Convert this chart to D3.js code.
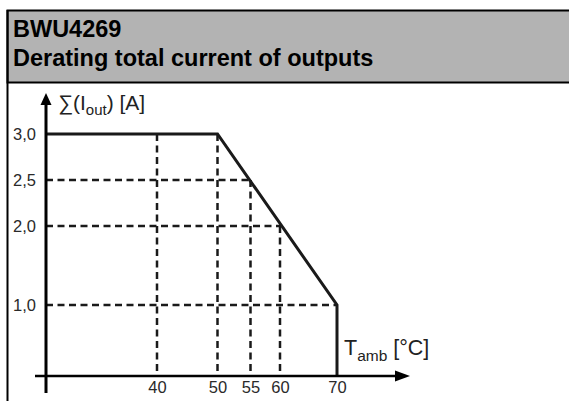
<!DOCTYPE html>
<html>
<head>
<meta charset="utf-8">
<script src="https://cdn.jsdelivr.net/npm/d3@7"></script>
<style>
  body { margin: 0; background: #fff; }
  svg { display: block; font-family: "Liberation Sans", Arial, sans-serif; }
</style>
</head>
<body>
<div id="chart"></div>
<script>
// Derating curve data (schematic drawing, axis origin at 20 °C)
var titleLines = ["BWU4269", "Derating total current of outputs"];
var tempTicks = [40, 50, 55, 60, 70];
var currentTicks = [1.0, 2.0, 2.5, 3.0];
var curveTemp = [20, 50, 70, 70];
var curveCurrent = [3.0, 3.0, 1.0, 0];
// dashed guides: vertical ones from the curve down to the x axis
var guideTemp = [40, 50, 55, 60];
var guideTempTop = [3.0, 3.0, 2.5, 2.0];
// horizontal ones from the y axis to the curve
var guideCurrent = [2.5, 2.0, 1.0];
var guideCurrentEnd = [55, 60, 70];

function init() {
    var w = 569, h = 401;
    var ink = "#1a1a1a";

    // the drawing is not to scale, so the scales are piecewise
    var x = d3.scaleLinear()
        .domain([20, 40, 50, 55, 60, 70])
        .range([46, 157, 217.5, 250.5, 280, 337]);
    var y = d3.scaleLinear()
        .domain([0, 1, 2, 2.5, 3])
        .range([376, 305, 226, 180, 134]);

    var svg = d3.select("#chart").append("svg")
        .attr("width", w)
        .attr("height", h);

    // header box
    svg.append("rect")
        .attr("x", 7.5).attr("y", 10.5)
        .attr("width", w + 10).attr("height", 72)
        .attr("fill", "#b3b3b3")
        .attr("stroke", "#000")
        .attr("stroke-width", 2);
    svg.append("line")
        .attr("x1", 7.5).attr("x2", 7.5)
        .attr("y1", 10).attr("y2", h)
        .attr("stroke", "#000").attr("stroke-width", 2);

    svg.selectAll(".title")
        .data(titleLines)
        .enter().append("text")
        .attr("class", "title")
        .attr("x", 13)
        .attr("y", function(d, i) { return 37 + i * 29; })
        .attr("font-size", "23.5px")
        .attr("font-weight", "bold")
        .attr("fill", "#000")
        .text(function(d) { return d; });

    // dashed guides
    svg.selectAll(".vguide")
        .data(guideTemp)
        .enter().append("line")
        .attr("class", "vguide")
        .attr("x1", function(d) { return x(d); })
        .attr("x2", function(d) { return x(d); })
        .attr("y1", function(d, i) { return y(guideTempTop[i]); })
        .attr("y2", y(0))
        .attr("stroke", ink)
        .attr("stroke-width", 2.5)
        .attr("stroke-dasharray", "7,4.5");

    svg.selectAll(".hguide")
        .data(guideCurrent)
        .enter().append("line")
        .attr("class", "hguide")
        .attr("x1", x(20))
        .attr("x2", function(d, i) { return x(guideCurrentEnd[i]); })
        .attr("y1", function(d) { return y(d); })
        .attr("y2", function(d) { return y(d); })
        .attr("stroke", ink)
        .attr("stroke-width", 2.5)
        .attr("stroke-dasharray", "7,4.5");

    // derating curve
    var line = d3.line()
        .x(function(d) { return x(d[0]); })
        .y(function(d) { return y(d[1]); });
    svg.append("path")
        .datum(d3.zip(curveTemp, curveCurrent))
        .attr("d", line)
        .attr("fill", "none")
        .attr("stroke", ink)
        .attr("stroke-width", 3);

    // axes lines with arrow heads
    var x0 = x(20), y0 = y(0);
    svg.append("line")
        .attr("x1", x0).attr("x2", x0)
        .attr("y1", 103).attr("y2", 393)
        .attr("stroke", "#000").attr("stroke-width", 3);
    svg.append("path")
        .attr("d", "M" + x0 + ",93 L" + (x0 - 5.5) + ",105 L" + (x0 + 5.5) + ",105 Z")
        .attr("fill", "#000");
    svg.append("line")
        .attr("x1", 35).attr("x2", 397)
        .attr("y1", y0).attr("y2", y0)
        .attr("stroke", "#000").attr("stroke-width", 2.5);
    svg.append("path")
        .attr("d", "M410," + y0 + " L395," + (y0 - 5.5) + " L395," + (y0 + 5.5) + " Z")
        .attr("fill", "#000");

    // tick labels through d3 axes
    var xAxis = d3.axisBottom(x)
        .tickValues(tempTicks)
        .tickSize(0)
        .tickPadding(5)
        .tickFormat(d3.format("d"));
    var gx = svg.append("g")
        .attr("transform", "translate(0," + y0 + ")")
        .call(xAxis);

    var yAxis = d3.axisLeft(y)
        .tickValues(currentTicks)
        .tickSize(0)
        .tickPadding(10)
        .tickFormat(function(d) { return d.toFixed(1).replace(".", ","); });
    var gy = svg.append("g")
        .attr("transform", "translate(" + x0 + ",0)")
        .call(yAxis);

    [gx, gy].forEach(function(g) {
        g.select(".domain").remove();
        g.selectAll("text")
            .attr("font-family", "Liberation Sans, Arial, sans-serif")
            .attr("font-size", "16.5px")
            .attr("fill", "#2a2a2a");
    });

    // axis titles
    var yt = svg.append("text")
        .attr("x", 58).attr("y", 110)
        .attr("font-size", "21px")
        .attr("fill", "#222");
    yt.append("tspan").text("\u2211(I");
    yt.append("tspan").attr("font-size", "15px").attr("dy", 5).text("out");
    yt.append("tspan").attr("dy", -5).text(") [A]");

    var xt = svg.append("text")
        .attr("x", 344).attr("y", 355)
        .attr("font-size", "21.5px")
        .attr("fill", "#222");
    xt.append("tspan").text("T");
    xt.append("tspan").attr("font-size", "15.5px").attr("dy", 6).text("amb");
    xt.append("tspan").attr("dy", -6).text(" [\u00b0C]");
}

window.onload = init;
</script>
</body>
</html>
